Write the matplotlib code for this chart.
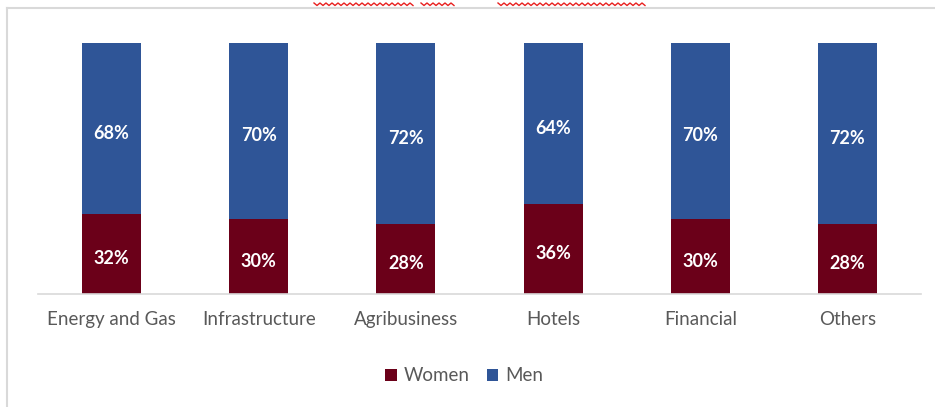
import numpy as np
import matplotlib.pyplot as plt
from matplotlib.lines import Line2D

sectors = ['Energy and Gas', 'Infrastructure', 'Agribusiness', 'Hotels', 'Financial', 'Others']
women = [32, 30, 28, 36, 30, 28]
men = [68, 70, 72, 64, 70, 72]

women_color = '#6B0019'
men_color = '#2F5597'

plt.rcParams['font.family'] = ['Lato', 'DejaVu Sans']

fig = plt.figure(figsize=(9.35, 4.07), dpi=100)
ax = fig.add_axes([38 / 935, 113 / 407, 883 / 935, 251 / 407])

x = np.arange(len(sectors))
w = np.array(women) / 100
m = np.array(men) / 100

ax.bar(x, w, width=0.4, color=women_color, label='Women')
ax.bar(x, m, width=0.4, bottom=w, color=men_color, label='Men')

for xi, wv, mv, wp, mp in zip(x, w, m, women, men):
    ax.text(xi, wv / 2 - 0.02, f'{wp}%', ha='center', va='center',
            color='white', fontsize=13, fontweight='bold')
    ax.text(xi, wv + mv / 2 - 0.02, f'{mp}%', ha='center', va='center',
            color='white', fontsize=13, fontweight='bold')

ax.set_xlim(-0.5, 5.5)
ax.set_ylim(0, 1)
ax.set_yticks([])
ax.set_xticks(x)
ax.set_xticklabels(sectors, fontsize=13.5, color='#595959')
ax.tick_params(axis='x', length=0, pad=12)
for side in ['top', 'right', 'left']:
    ax.spines[side].set_visible(False)
ax.spines['bottom'].set_color('#d9d9d9')
ax.spines['bottom'].set_linewidth(1.2)

ax.legend(loc='upper center', bbox_to_anchor=(0.483, -0.225), ncol=2, frameon=False,
          fontsize=13.5, labelcolor='#595959', handlelength=0.6, handleheight=0.6,
          handletextpad=0.4, columnspacing=0.9)

# outer chart border (top and left edges)
fig.add_artist(Line2D([7 / 935, 1], [1 - 8 / 407, 1 - 8 / 407], color='#d9d9d9', lw=1.5))
fig.add_artist(Line2D([7 / 935, 7 / 935], [0, 1 - 8 / 407], color='#d9d9d9', lw=1.5))

# red wavy underlines along the top
for x0, x1 in [(314, 413), (421, 455), (498, 647)]:
    xs = np.arange(x0, x1 + 1, 3)
    ys = np.where(np.arange(len(xs)) % 2 == 0, 3, 5.5)
    fig.add_artist(Line2D(xs / 935, 1 - ys / 407, color='#e8201f', lw=1))

fig.savefig('out.png', dpi=100)
